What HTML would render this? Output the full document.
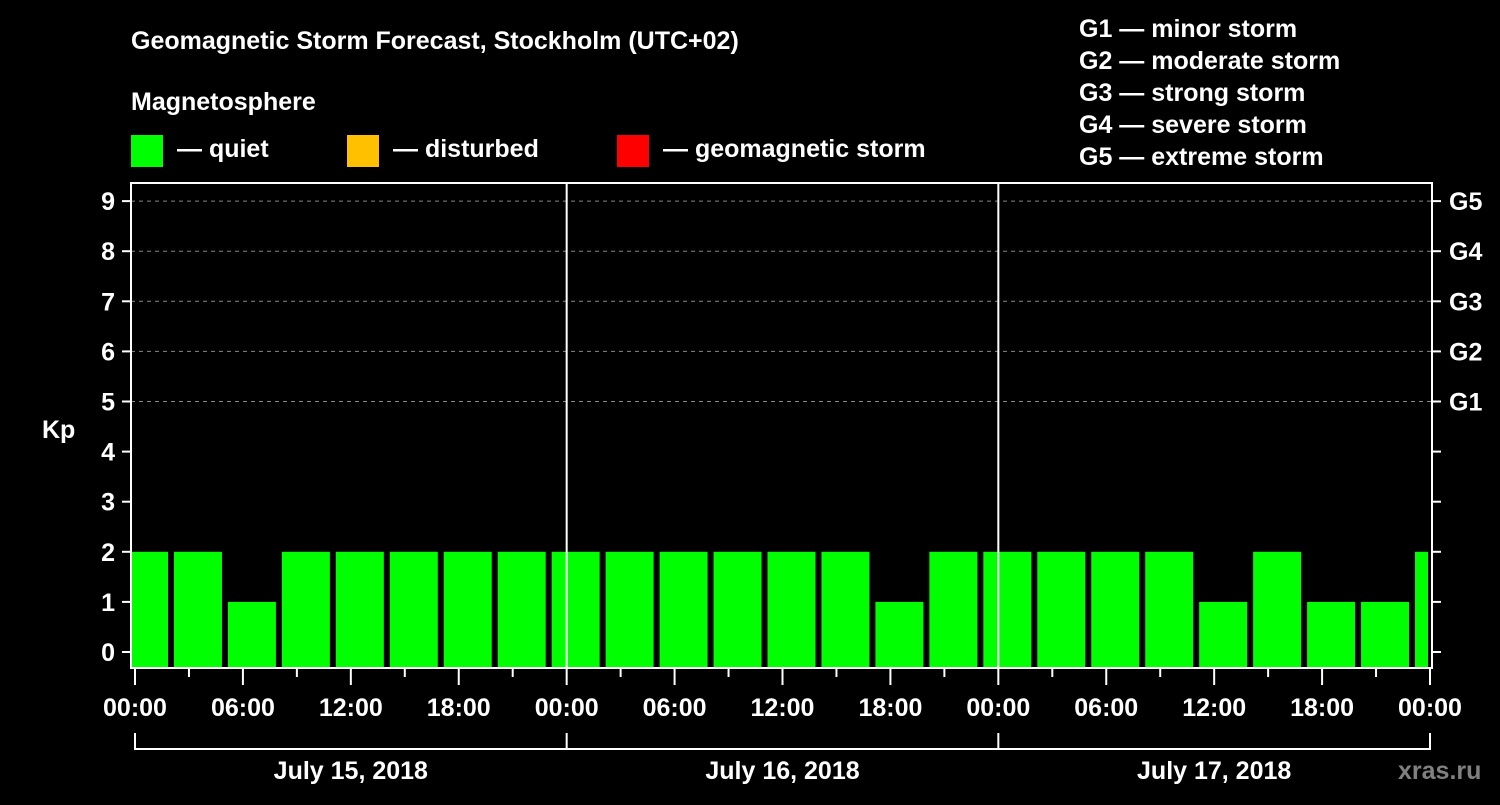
<!DOCTYPE html>
<html><head><meta charset="utf-8"><style>
body{margin:0;background:#000;width:1500px;height:800px;overflow:hidden}
text{font-family:"Liberation Sans",Arial,sans-serif;font-weight:bold;fill:#fff}
</style></head><body>
<svg id="chart" width="1500" height="800" xmlns="http://www.w3.org/2000/svg">
<text x="131" y="49" font-size="25">Geomagnetic Storm Forecast, Stockholm (UTC+02)</text>
<text x="131" y="110" font-size="25">Magnetosphere</text>
<g><rect x="131" y="135" width="32" height="32" fill="#00ff00"/><text x="177" y="157" font-size="25">— quiet</text></g>
<g><rect x="347" y="135" width="32" height="32" fill="#ffc000"/><text x="393" y="157" font-size="25">— disturbed</text></g>
<g><rect x="617" y="135" width="32" height="32" fill="#ff0000"/><text x="663" y="157" font-size="25">— geomagnetic storm</text></g>
<g font-size="25">
<text x="1079" y="37">G1 — minor storm</text>
<text x="1079" y="69">G2 — moderate storm</text>
<text x="1079" y="101">G3 — strong storm</text>
<text x="1079" y="133">G4 — severe storm</text>
<text x="1079" y="165">G5 — extreme storm</text>
</g>
<text x="42" y="438" font-size="25">Kp</text>
<text x="1398" y="779" font-size="25" style="fill:#808080">xras.ru</text>
<g id="grid"></g><g id="bars"></g><g id="axes"></g>
</svg>
<script>
const kpValues=[2,2,1,2,2,2,2,2,2,2,2,2,2,2,1,2,2,2,2,2,1,2,1,1,2];
const yTicks=[0,1,2,3,4,5,6,7,8,9];
const gLabels=["G1","G2","G3","G4","G5"];
const hourLabels=["00:00","06:00","12:00","18:00","00:00","06:00","12:00","18:00","00:00","06:00","12:00","18:00","00:00"];
const dayLabels=["July 15, 2018","July 16, 2018","July 17, 2018"];
const NS="http://www.w3.org/2000/svg";
const X0=135,X1=1430,BL=131,BR=1432,TOP=183,BOT=668;
const xs=h=>X0+(X1-X0)*h/72;
const ys=v=>652-v*50.1;
function mk(p,t,a){const e=document.createElementNS(NS,t);for(const k in a)e.setAttribute(k,a[k]);document.getElementById(p).appendChild(e);return e;}
yTicks.forEach(v=>{
 if(v>=5){const g=mk('grid','line',{x1:BL,x2:BR,y1:ys(v),y2:ys(v),stroke:'#888','stroke-dasharray':'4,4'});
 
 }
 const t=mk('axes','line',{x1:122,x2:BL,y1:ys(v),y2:ys(v),stroke:'#fff','stroke-width':2});
 
 
 const r=mk('axes','line',{x1:BR,x2:1441,y1:ys(v),y2:ys(v),stroke:'#fff','stroke-width':2});
 
 
 const l=mk('axes','text',{x:115,y:ys(v)+9,'font-size':25,'text-anchor':'end'});l.textContent=v;
 
 
});
gLabels.forEach((g,i)=>{const l=mk('axes','text',{x:1449,y:ys(5+i)+9,'font-size':25});l.textContent=g;
 
 });
kpValues.forEach((v,i)=>{
 let a=xs(3*i)-15,b=a+48;a=Math.max(a,BL+1);b=Math.min(b,X1-2);
 const r=mk('bars','rect',{x:a,y:ys(v),width:b-a,height:BOT-ys(v),fill:'#00ff00'});
 
 
});
const f=mk('axes','rect',{x:BL,y:TOP,width:BR-BL,height:BOT-TOP,fill:'none',stroke:'#fff','stroke-width':2});


[24,48].forEach(h=>{const d=mk('axes','line',{x1:xs(h),x2:xs(h),y1:TOP,y2:BOT,stroke:'#fff','stroke-width':2});
 
 });
for(let h=0;h<=72;h+=3){const maj=h%6==0;
 const t=mk('axes','line',{x1:xs(h),x2:xs(h),y1:BOT,y2:maj?685:677,stroke:'#fff','stroke-width':2});
 
 }
hourLabels.forEach((s,i)=>{const l=mk('axes','text',{x:xs(6*i),y:716,'font-size':25,'text-anchor':'middle'});l.textContent=s;
 
 });
const br=mk('axes','path',{d:`M${xs(0)},733V749H${xs(72)}V733`,fill:'none',stroke:'#fff','stroke-width':2});


[24,48].forEach(h=>{const d=mk('axes','line',{x1:xs(h),x2:xs(h),y1:733,y2:749,stroke:'#fff','stroke-width':2});
 
 });
dayLabels.forEach((s,i)=>{const l=mk('axes','text',{x:xs(24*i+12),y:779,'font-size':25,'text-anchor':'middle'});l.textContent=s;
 
 });
</script>
</body></html>
